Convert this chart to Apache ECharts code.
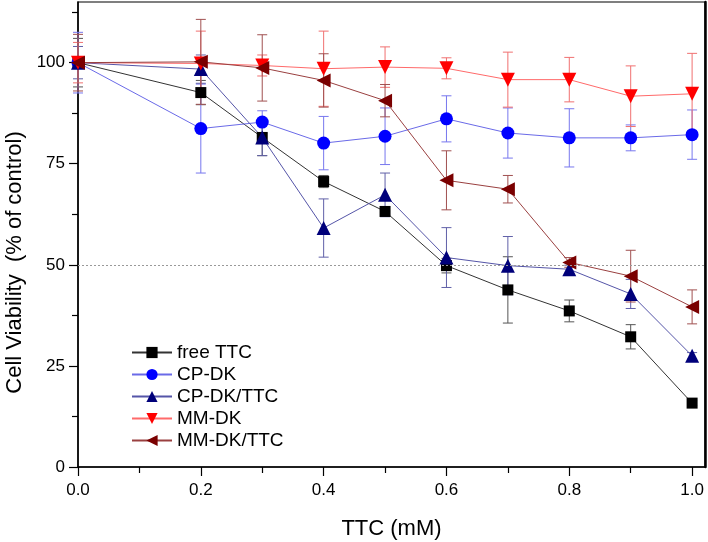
<!DOCTYPE html>
<html><head><meta charset="utf-8">
<script src="https://cdn.jsdelivr.net/npm/echarts@6/dist/echarts.min.js"></script>
<style>html,body{margin:0;padding:0;background:#fff}#c{width:708px;height:542px}</style>
</head><body><div id="c"></div>
<script>
var xValues = [0, 0.2, 0.3, 0.4, 0.5, 0.6, 0.7, 0.8, 0.9, 1.0];
var freeTTC = [100, 92.6, 81.5, 70.6, 63.2, 49.8, 43.8, 38.6, 32.2, 15.8];
var freeTTCErr = [6, 3, 4.5, 1.5, 1.2, 1.8, 8.2, 2.7, 3, 0.6];
var cpDK = [100, 83.7, 85.3, 80.1, 81.8, 86.1, 82.6, 81.4, 81.4, 82.2];
var cpDKErr = [7.5, 11, 2.8, 6.6, 7, 5.7, 6.2, 7.2, 3.2, 6.1];
var cpDKTTC = [100, 98.4, 81.5, 59.1, 67.3, 51.8, 49.8, 48.9, 42.8, 27.5];
var cpDKTTCErr = [4, 3.5, 4.5, 7.2, 5.4, 7.4, 7.2, 1, 3.6, 0.8];
var mmDK = [100, 99.8, 99.3, 98.5, 98.9, 98.6, 95.8, 95.8, 91.7, 92.3];
var mmDKErr = [5, 8, 2.6, 9.3, 5, 2.6, 6.8, 5.5, 7.5, 10];
var mmDKTTC = [100, 100.2, 98.7, 95.6, 90.6, 70.9, 68.7, 50.6, 47.2, 39.6];
var mmDKTTCErr = [7, 10.5, 8.2, 6.6, 4, 7.3, 3.4, 1.2, 6.4, 4.2];
var xTickLabels = [0, 0.2, 0.4, 0.6, 0.8, 1.0];
var xMinorTicks = [0.1, 0.3, 0.5, 0.7, 0.9];
var yTickLabels = [0, 25, 50, 75, 100];
var yMinorTicks = [12.5, 37.5, 62.5, 87.5, 112.5];
var legendNames = ['free TTC', 'CP-DK', 'CP-DK/TTC', 'MM-DK', 'MM-DK/TTC'];

var FONT = 'Liberation Sans';
var X_MAX = 1.021, Y_MAX = 115;
var chart = echarts.init(document.getElementById('c'), null, {renderer: 'canvas'});

function pairs(ys) { return xValues.map(function (x, i) { return [x, ys[i]]; }); }
function errData(ys, es) { return xValues.map(function (x, i) { return [x, ys[i] - es[i], ys[i] + es[i]]; }); }

function errSeries(ys, es, color) {
  return {
    type: 'custom', z: 1, silent: true,
    data: errData(ys, es),
    renderItem: function (params, api) {
      var x = api.value(0);
      var lo = api.coord([x, api.value(1)]);
      var hi = api.coord([x, api.value(2)]);
      var w = 5;
      var st = {stroke: color, lineWidth: 1};
      return {type: 'group', children: [
        {type: 'line', shape: {x1: lo[0], y1: lo[1], x2: hi[0], y2: hi[1]}, style: st},
        {type: 'line', shape: {x1: lo[0] - w, y1: lo[1], x2: lo[0] + w, y2: lo[1]}, style: st},
        {type: 'line', shape: {x1: hi[0] - w, y1: hi[1], x2: hi[0] + w, y2: hi[1]}, style: st}
      ]};
    }
  };
}

function lineSeries(name, ys, symbol, size, rot, mColor, lColor) {
  return {
    name: name, type: 'line', z: 3, data: pairs(ys),
    symbol: symbol, symbolSize: size, symbolRotate: rot, showAllSymbol: true,
    itemStyle: {color: mColor, borderWidth: 0},
    lineStyle: {color: lColor, width: 1},
    emphasis: {disabled: true}, animation: false
  };
}

var series = [
  errSeries(freeTTC, freeTTCErr, '#555555'),
  errSeries(cpDK, cpDKErr, '#7777ee'),
  errSeries(cpDKTTC, cpDKTTCErr, '#6060a8'),
  errSeries(mmDK, mmDKErr, '#f07070'),
  errSeries(mmDKTTC, mmDKTTCErr, '#a05050'),
  lineSeries(legendNames[0], freeTTC, 'rect', 11, 0, '#000000', '#333333'),
  lineSeries(legendNames[1], cpDK, 'circle', 13, 0, '#0000ff', '#6a6ae8'),
  lineSeries(legendNames[2], cpDKTTC, 'triangle', 14, 0, '#00007a', '#5555a8'),
  lineSeries(legendNames[3], mmDK, 'triangle', 14, 180, '#ff0000', '#ff6a6a'),
  lineSeries(legendNames[4], mmDKTTC, 'triangle', 14, 90, '#7a0000', '#9a4040')
];
series[5].markLine = {
  silent: true, symbol: 'none', label: {show: false},
  lineStyle: {color: '#999999', type: [2, 2], width: 1},
  data: [{yAxis: 50}]
};

var hidden = {show: false};
chart.setOption({
  animation: false,
  backgroundColor: '#ffffff',
  grid: {left: 78, right: 3, top: 2, bottom: 75, show: true, borderColor: '#000', borderWidth: 1.2,
    backgroundColor: 'transparent', containLabel: false, outerBoundsMode: 'none'},
  legend: {
    orient: 'vertical', left: 131, top: 343, itemWidth: 40, itemHeight: 14, itemGap: 3, padding: 0,
    textStyle: {fontFamily: FONT, fontSize: 19, color: '#000'},
    data: legendNames
  },
  xAxis: [{
    type: 'value', min: 0, max: X_MAX, position: 'bottom',
    name: 'TTC (mM)', nameLocation: 'middle', nameGap: 51,
    nameTextStyle: {fontFamily: FONT, fontSize: 22, color: '#000'},
    axisLine: {lineStyle: {color: '#000', width: 1.5}},
    axisTick: {show: true, length: 9, lineStyle: {color: '#000', width: 1.2}, customValues: xTickLabels},
    axisLabel: {fontFamily: FONT, fontSize: 17, color: '#000', margin: 15, customValues: xTickLabels,
      formatter: function (v) { return v.toFixed(1); }},
    splitLine: hidden
  }, {
    type: 'value', min: 0, max: X_MAX, position: 'bottom',
    axisLine: hidden, axisLabel: hidden, splitLine: hidden,
    axisTick: {show: true, length: 6, lineStyle: {color: '#000', width: 1.2}, customValues: xMinorTicks}
  }],
  yAxis: [{
    type: 'value', min: 0, max: Y_MAX, position: 'left',
    name: 'Cell Viability  (% of control)', nameLocation: 'middle', nameGap: 51,
    nameTextStyle: {fontFamily: FONT, fontSize: 22, color: '#000', padding: [0, 56, 0, 0]},
    axisLine: {lineStyle: {color: '#000', width: 1.5}},
    axisTick: {show: true, length: 9, lineStyle: {color: '#000', width: 1.2}, customValues: yTickLabels},
    axisLabel: {fontFamily: FONT, fontSize: 17, color: '#000', margin: 13, customValues: yTickLabels},
    splitLine: hidden
  }, {
    type: 'value', min: 0, max: Y_MAX, position: 'left',
    axisLine: hidden, axisLabel: hidden, splitLine: hidden,
    axisTick: {show: true, length: 6, lineStyle: {color: '#000', width: 1.2}, customValues: yMinorTicks}
  }, {
    type: 'value', min: 0, max: Y_MAX, position: 'right',
    axisLine: {show: true, lineStyle: {color: '#000', width: 2.5}},
    axisTick: hidden, axisLabel: hidden, splitLine: hidden
  }],
  series: series
});
</script></body></html>
